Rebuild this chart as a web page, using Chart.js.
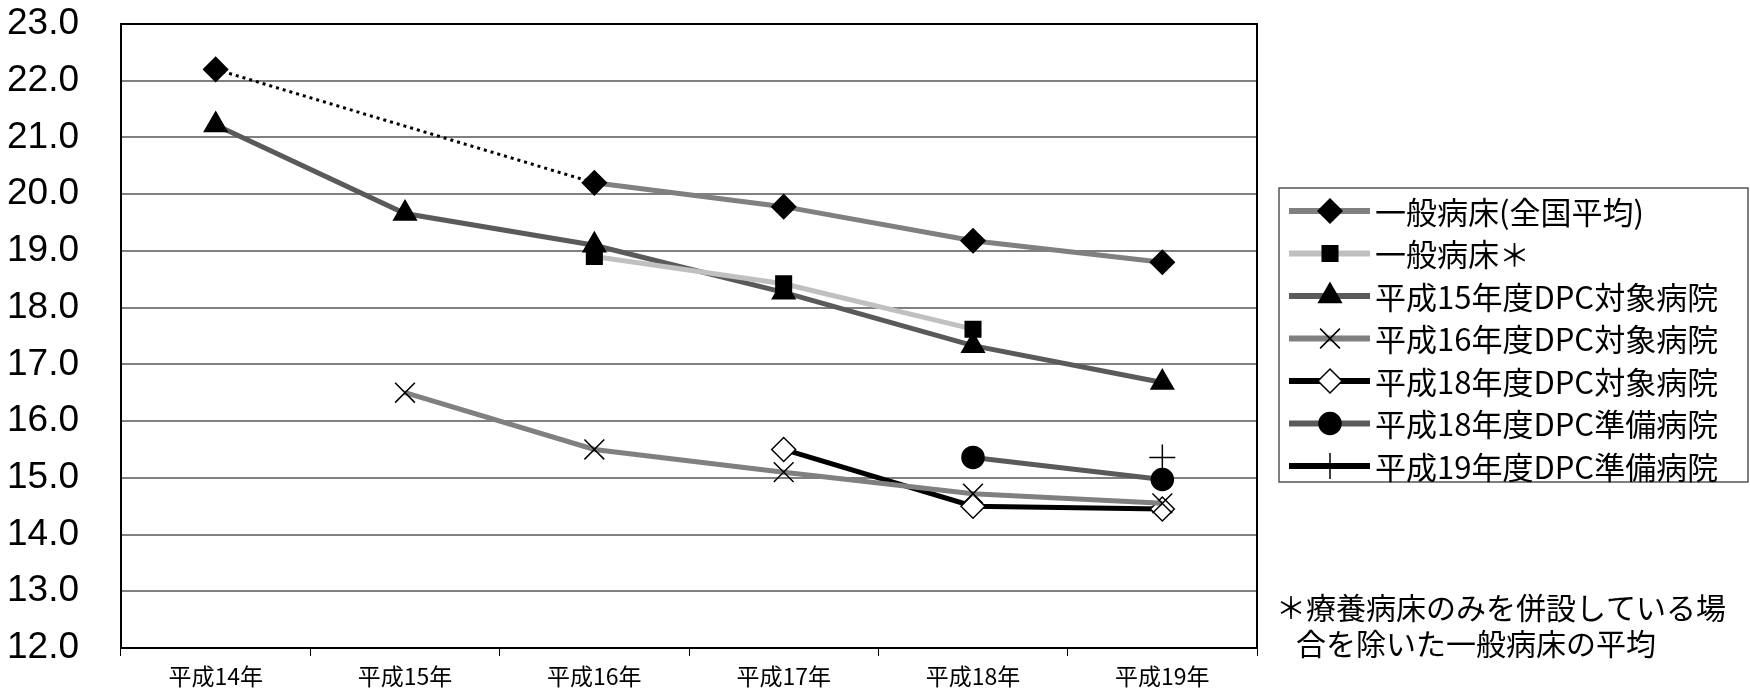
<!DOCTYPE html>
<html>
<head>
<meta charset="utf-8">
<script src="https://cdn.jsdelivr.net/npm/chart.js@4"></script>
<style>
  body { margin: 0; background: #fff; }
  #wrap { width: 1750px; height: 696px; position: relative; }
</style>
</head>
<body>
<div id="wrap"><canvas id="c" width="1750" height="696"></canvas></div>
<script>
const categories = ['平成14年', '平成15年', '平成16年', '平成17年', '平成18年', '平成19年'];
const zenkoku = [22.2, null, 20.2, 19.78, 19.18, 18.8];
const zenkokuGap = [22.2, null, 20.2, null, null, null];
const ippan = [null, null, 18.9, 18.42, 17.62, null];
const dpc15 = [21.22, 19.66, 19.1, 18.27, 17.33, 16.68];
const dpc16 = [null, 16.5, 15.5, 15.1, 14.72, 14.55];
const dpc18 = [null, null, null, 15.5, 14.5, 14.45];
const jyunbi18 = [null, null, null, null, 15.36, 14.97];
const jyunbi19 = [null, null, null, null, null, 15.36];
const yTicks = [12, 13, 14, 15, 16, 17, 18, 19, 20, 21, 22, 23];

const FONT = '"Liberation Sans Narrow", "Liberation Sans", "Noto Sans CJK JP", sans-serif';
const JFONT = '"Noto Sans CJK JP", sans-serif';

const series = [
  { label: '一般病床(全国平均)', data: zenkoku, color: '#808080', style: 'rectRot', r: 12, fill: '#000' },
  { label: '一般病床＊', data: ippan, color: '#c0c0c0', style: 'rect', r: 11, fill: '#000' },
  { label: '平成15年度DPC対象病院', data: dpc15, color: '#5a5a5a', style: 'triangle', r: 13, fill: '#000' },
  { label: '平成16年度DPC対象病院', data: dpc16, color: '#808080', style: 'crossRot', r: 14, fill: '#000' },
  { label: '平成18年度DPC対象病院', data: dpc18, color: '#000', style: 'rectRot', r: 12, fill: '#fff' },
  { label: '平成18年度DPC準備病院', data: jyunbi18, color: '#5a5a5a', style: 'circle', r: 11, fill: '#000' },
  { label: '平成19年度DPC準備病院', data: jyunbi19, color: '#000', style: 'cross', r: 13, fill: '#000' }
];

const datasets = series.map(s => ({
  label: s.label,
  data: s.data,
  borderColor: s.color,
  borderWidth: 5,
  pointStyle: s.style,
  pointRadius: s.r,
  pointBackgroundColor: s.fill,
  pointBorderColor: '#000',
  pointBorderWidth: 1.5,
  tension: 0
}));
// dotted link across the missing 平成15年 value
datasets.unshift({
  label: 'gap',
  data: zenkokuGap,
  spanGaps: true,
  borderColor: '#000',
  borderWidth: 3,
  borderDash: [3, 4],
  pointRadius: 0
});

const frame = {
  id: 'frame',
  afterDraw(chart) {
    const { ctx, chartArea: a } = chart;
    ctx.save();
    ctx.strokeStyle = '#000';
    ctx.lineWidth = 2;
    ctx.strokeRect(a.left, a.top, a.right - a.left, a.bottom - a.top);

    // legend
    const lx = 1279, ly = 188, lw = 469, lh = 294;
    ctx.lineWidth = 1.5;
    ctx.strokeStyle = '#555';
    ctx.strokeRect(lx, ly, lw, lh);
    ctx.font = '31px ' + JFONT;
    ctx.textBaseline = 'middle';
    chart.data.datasets.slice(1).forEach((ds, i) => {
      const y = 211 + i * 42.5;
      ctx.strokeStyle = ds.borderColor;
      ctx.lineWidth = 6;
      ctx.beginPath();
      ctx.moveTo(1289, y);
      ctx.lineTo(1370, y);
      ctx.stroke();
      ctx.fillStyle = ds.pointBackgroundColor;
      ctx.strokeStyle = '#000';
      ctx.lineWidth = 1.5;
      Chart.helpers.drawPoint(ctx, { pointStyle: ds.pointStyle, radius: ds.pointRadius, borderWidth: 1.5 }, 1330, y);
      ctx.fillStyle = '#000';
      ctx.fillText(ds.label, 1375, y + 1);
    });

    // footnote
    ctx.font = '30px ' + JFONT;
    ctx.fillText('＊療養病床のみを併設している場', 1276, 608);
    ctx.fillText('合を除いた一般病床の平均', 1296, 644);
    ctx.restore();
  }
};

new Chart(document.getElementById('c'), {
  type: 'line',
  data: { labels: categories, datasets },
  options: {
    responsive: false,
    animation: false,
    layout: { padding: { top: 24, right: 493, left: 0, bottom: 0 } },
    plugins: { legend: { display: false }, tooltip: { enabled: false } },
    scales: {
      x: {
        offset: true,
        grid: { drawOnChartArea: false, color: '#000', tickLength: 8, offset: true },
        border: { color: '#000', width: 2 },
        ticks: { color: '#000', font: { family: JFONT, size: 23 }, padding: 6, maxRotation: 0 },
        afterFit: s => { s.height = 48; s.paddingLeft = 0; s.paddingRight = 0; }
      },
      y: {
        min: 12, max: 23,
        afterBuildTicks: s => { s.ticks = yTicks.map(v => ({ value: v })); },
        grid: { color: '#808080', lineWidth: 2, tickLength: 0 },
        border: { color: '#000', width: 2 },
        ticks: { color: '#000', font: { family: FONT, size: 37 }, padding: 42, callback: v => v.toFixed(1) },
        afterFit: s => { s.width = 121; s.paddingTop = 0; s.paddingBottom = 0; }
      }
    }
  },
  plugins: [frame]
});
</script>
</body>
</html>
